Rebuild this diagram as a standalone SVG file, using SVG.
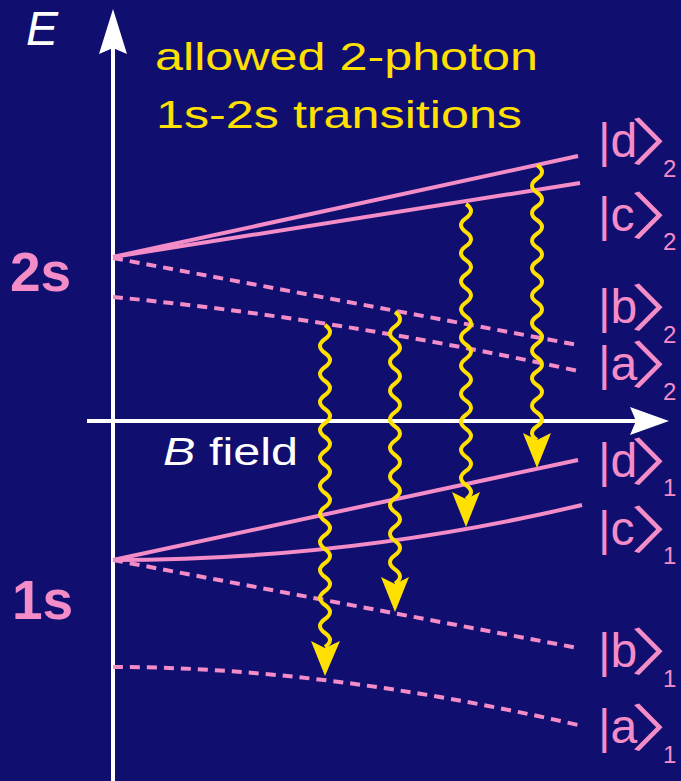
<svg xmlns="http://www.w3.org/2000/svg" width="681" height="781" viewBox="0 0 681 781">
<style>
.bg{fill:#100f70}
.ax{stroke:#ffffff;stroke-width:4;fill:none}
.axh{fill:#ffffff}
.lv{stroke:#f48cc8;stroke-width:4;fill:none}
.dash{stroke-dasharray:10 7}
.wv{stroke:#ffe000;stroke-width:4;fill:none}
.wh{fill:#ffe000}
.t{font-family:"Liberation Sans",Arial,sans-serif}
.pk{fill:#f48cc8}
.lab{font-family:"Liberation Sans",Arial,sans-serif;font-size:48px;fill:#f48cc8}
.br{font-family:"Noto Sans CJK JP","Noto Sans CJK SC",sans-serif;font-size:51px;letter-spacing:-31px;fill:#f48cc8}
.sub{font-family:"Liberation Sans",Arial,sans-serif;font-size:24px;fill:#f48cc8}
</style>
<rect class="bg" x="0" y="0" width="681" height="781"/>
<g id="axes">
<line class="ax" x1="113" y1="781" x2="113" y2="45"/>
<polygon class="axh" points="113,9 127,54 113,48 99,54"/>
<line class="ax" x1="87" y1="421" x2="640" y2="421"/>
<polygon class="axh" points="669,421 630,407 636,421 630,435"/>
<text class="t" x="26" y="45" font-size="48" font-style="italic" fill="#ffffff">E</text>
<text class="t" x="163" y="465" font-size="39" fill="#ffffff" textLength="135" lengthAdjust="spacingAndGlyphs"><tspan font-style="italic">B</tspan> field</text>
</g>
<g id="title">
<text class="t" x="155" y="70" font-size="39" fill="#ffe000" textLength="383" lengthAdjust="spacingAndGlyphs">allowed 2-photon</text>
<text class="t" x="156" y="128" font-size="39" fill="#ffe000" textLength="366" lengthAdjust="spacingAndGlyphs">1s-2s transitions</text>
</g>
<g id="level-2s">
<text class="t pk" x="10" y="291" font-size="55" font-weight="bold">2s</text>
<line class="lv" x1="113" y1="257" x2="578" y2="156"/>
<line class="lv" x1="113" y1="257" x2="580" y2="183"/>
<line class="lv dash" x1="113" y1="258" x2="578" y2="345"/>
<path class="lv dash" d="M113,297 Q335,318 578,371"/>
</g>
<g id="level-1s">
<text class="t pk" x="12" y="619" font-size="55" font-weight="bold">1s</text>
<line class="lv" x1="113" y1="560" x2="578" y2="460"/>
<path class="lv" d="M113,560 Q350,560 582,505"/>
<line class="lv dash" x1="113" y1="560" x2="578" y2="648"/>
<path class="lv dash" d="M113,667 Q326,667 578,725"/>
</g>
<g id="labels">
<text class="lab" x="598" y="157">|d</text><text class="br" transform="translate(630,161) scale(1.55,1)">〉</text><text class="sub" x="663" y="177">2</text>
<text class="lab" x="598" y="231">|c</text><text class="br" transform="translate(630,235) scale(1.55,1)">〉</text><text class="sub" x="663" y="250">2</text>
<text class="lab" x="598" y="323">|b</text><text class="br" transform="translate(630,327) scale(1.55,1)">〉</text><text class="sub" x="663" y="343">2</text>
<text class="lab" x="598" y="380">|a</text><text class="br" transform="translate(630,384) scale(1.55,1)">〉</text><text class="sub" x="663" y="400">2</text>
<text class="lab" x="598" y="477">|d</text><text class="br" transform="translate(630,481) scale(1.55,1)">〉</text><text class="sub" x="663" y="496">1</text>
<text class="lab" x="598" y="545">|c</text><text class="br" transform="translate(630,549) scale(1.55,1)">〉</text><text class="sub" x="663" y="564">1</text>
<text class="lab" x="598" y="667">|b</text><text class="br" transform="translate(630,671) scale(1.55,1)">〉</text><text class="sub" x="663" y="687">1</text>
<text class="lab" x="598" y="743">|a</text><text class="br" transform="translate(630,747) scale(1.55,1)">〉</text><text class="sub" x="663" y="763">1</text>
</g>
<g id="connectors">
<g id="t1">
<path class="wv" d="M325,325 q10,7 0,14 t0,14 t0,14 t0,14 t0,14 t0,14 t0,14 t0,14 t0,14 t0,14 t0,14 t0,14 t0,14 t0,14 t0,14 t0,14 t0,14 t0,14 t0,14 t0,14 t0,14 t0,14 t0,14"/>
<polygon class="wh" points="325,676 311,641 325,648 340,641"/>
</g>
<g id="t2">
<path class="wv" d="M395,312 q10,7.15 0,14.3 t0,14.3 t0,14.3 t0,14.3 t0,14.3 t0,14.3 t0,14.3 t0,14.3 t0,14.3 t0,14.3 t0,14.3 t0,14.3 t0,14.3 t0,14.3 t0,14.3 t0,14.3 t0,14.3 t0,14.3 t0,14.3"/>
<polygon class="wh" points="395,612 381,577 395,584 409,577"/>
</g>
<g id="t3">
<path class="wv" d="M466,204 q10,7.025 0,14.05 t0,14.05 t0,14.05 t0,14.05 t0,14.05 t0,14.05 t0,14.05 t0,14.05 t0,14.05 t0,14.05 t0,14.05 t0,14.05 t0,14.05 t0,14.05 t0,14.05 t0,14.05 t0,14.05 t0,14.05 t0,14.05 t0,14.05 t0,14.05"/>
<polygon class="wh" points="466,527 452,492 466,499 480,492"/>
</g>
<g id="t4">
<path class="wv" d="M537,165 q10,6.875 0,13.75 t0,13.75 t0,13.75 t0,13.75 t0,13.75 t0,13.75 t0,13.75 t0,13.75 t0,13.75 t0,13.75 t0,13.75 t0,13.75 t0,13.75 t0,13.75 t0,13.75 t0,13.75 t0,13.75 t0,13.75 t0,13.75 t0,13.75"/>
<polygon class="wh" points="537,468 523,433 537,440 551,433"/>
</g>
</g>
</svg>
